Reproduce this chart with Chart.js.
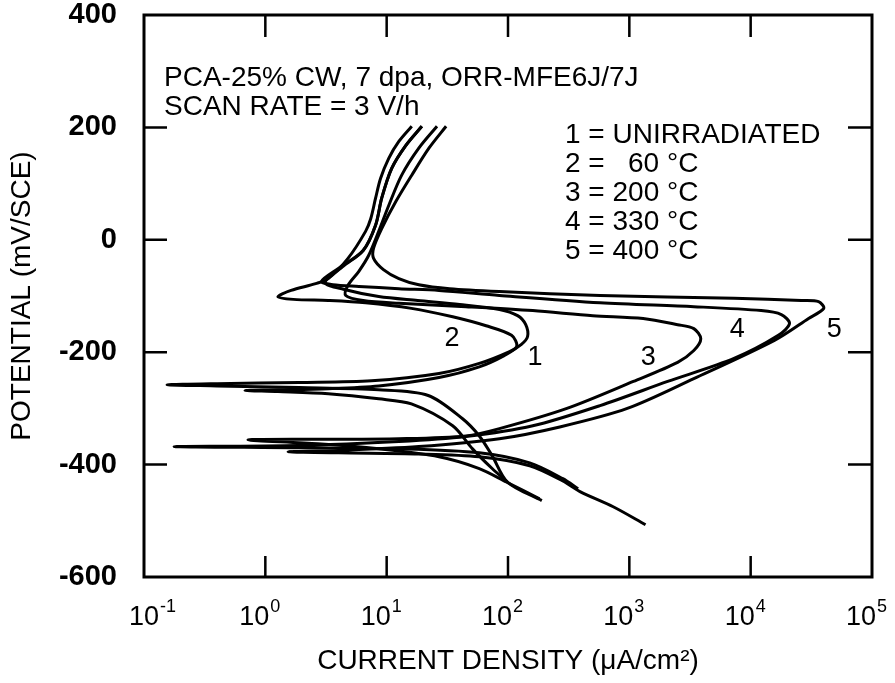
<!DOCTYPE html>
<html>
<head>
<meta charset="utf-8">
<script src="https://cdn.jsdelivr.net/npm/chart.js@4.4.1/dist/chart.umd.min.js"></script>
<style>
  body { margin: 0; background: #fff; }
  #wrap { width: 895px; height: 683px; }
</style>
</head>
<body>
<div id="wrap"><canvas id="chart" width="895" height="683"></canvas></div>
<script>
// Axis ticks
const xTicks = [0.1, 1, 10, 100, 1000, 10000, 100000];
const yTicks = [-600, -400, -200, 0, 200, 400];

// Polarization curves, [current density uA/cm2, potential mV/SCE], in scan order
const curve1 = [[190,-464],[99,-431],[74,-384],[58,-349],[42,-318],[22,-277],[8.6,-267],[1.9,-263],[0.4,-260],[0.155,-258],[0.4,-256],[1.9,-254],[7.5,-251],[27,-238],[58,-220],[103,-199],[129,-186],[145,-172],[140,-151],[120,-135],[85,-124],[40,-115],[18,-108],[8.6,-101],[4.4,-88],[3.1,-76],[4.4,-47],[6.4,-19],[8.1,26],[9.1,74],[11,127],[14.4,168],[19.5,202]];
const curve2 = [[99,-431],[74,-407],[51,-372],[35,-331],[16,-292],[8.6,-283],[3.3,-274],[1.27,-270],[0.68,-268],[1.27,-267],[3.3,-265],[8.6,-260],[27,-245],[58,-226],[93,-206],[118,-190],[107,-170],[66,-153],[35,-137],[16,-122],[6.7,-112],[3.3,-108],[1.7,-106],[1.27,-101],[1.63,-90],[2.6,-78],[3.3,-69],[4.8,-33],[6.7,15],[7.4,38],[8.1,74],[8.9,109],[10.4,145],[12.6,175],[16.1,202]];
const curve3 = [[182,-461],[97,-431],[58,-407],[27,-386],[8.6,-372],[2.7,-363],[0.72,-356],[2.7,-355],[12.6,-354],[45,-349],[85,-336],[306,-300],[1080,-252],[2500,-218],[3400,-197],[3880,-176],[3400,-158],[2500,-151],[1300,-140],[500,-135],[160,-126],[45,-119],[12.6,-113],[6.4,-108],[4.6,-99],[4.8,-81],[5.9,-56],[7.1,-28],[8.6,15],[10.4,61],[13.3,115],[18.4,163],[26,202]];
const curve4 = [[378,-443],[283,-425],[151,-397],[58,-379],[12.6,-372],[1.86,-370],[0.177,-368],[1.86,-366],[12.6,-359],[45,-350],[160,-331],[574,-295],[2070,-252],[7290,-211],[16900,-170],[20900,-149],[17900,-133],[12200,-126],[3400,-119],[574,-112],[85,-99],[27,-90],[12.6,-87],[5.9,-83],[3.6,-80],[2.9,-74],[4.0,-51],[6.4,-19],[8.1,26],[9.1,74],[11,127],[14.4,168],[19.5,202]];
const curve5 = [[1360,-507],[736,-475],[392,-448],[283,-429],[151,-402],[58,-386],[18.4,-381],[4.0,-379],[1.54,-377],[4.0,-375],[18.4,-368],[85,-354],[267,-333],[962,-300],[3400,-247],[15700,-179],[30000,-140],[40000,-122],[36300,-110],[26200,-108],[7290,-104],[574,-99],[85,-92],[33,-87],[18.4,-80],[12.6,-69],[9.4,-53],[7.8,-33],[7.8,-15],[9.1,20],[11.9,68],[16.1,115],[22.3,163],[30.9,202]];

// Text
const curveNames = ['1', '2', '3', '4', '5'];
const curveNameAt = [[167,-209],[34.6,-175],[1430,-209],[7740,-160],[48800,-160]];
const headerLines = ['PCA-25% CW, 7 dpa, ORR-MFE6J/7J', 'SCAN RATE = 3 V/h'];
const legendLines = ['1 = UNIRRADIATED', '2 =   60 °C', '3 = 200 °C', '4 = 330 °C', '5 = 400 °C'];

const FONT = '"Liberation Sans", Arial, Helvetica, sans-serif';

function toPoints(arr) {
    return arr.map(p => ({ x: p[0], y: p[1] }));
}

const curves = [curve1, curve2, curve3, curve4, curve5];

// frame, inward ticks, decade labels and the text blocks
const decor = {
    id: 'decor',
    afterDraw(chart) {
        const ctx = chart.ctx;
        const a = chart.chartArea;
        const xs = chart.scales.x;
        const ys = chart.scales.y;

        ctx.save();
        ctx.strokeStyle = '#000';
        ctx.lineWidth = 3;
        ctx.strokeRect(a.left, a.top, a.right - a.left, a.bottom - a.top);

        ctx.lineWidth = 2.5;
        ctx.beginPath();
        xTicks.forEach(v => {
            const px = xs.getPixelForValue(v);
            if (px <= a.left + 1 || px >= a.right - 1) return;
            ctx.moveTo(px, a.bottom);
            ctx.lineTo(px, a.bottom - 21);
            ctx.moveTo(px, a.top);
            ctx.lineTo(px, a.top + 22);
        });
        yTicks.forEach(v => {
            const py = ys.getPixelForValue(v);
            if (py <= a.top + 1 || py >= a.bottom - 1) return;
            ctx.moveTo(a.left, py);
            ctx.lineTo(a.left + 23, py);
            ctx.moveTo(a.right, py);
            ctx.lineTo(a.right - 24, py);
        });
        ctx.stroke();

        // 10^n labels under the x axis
        ctx.fillStyle = '#000';
        ctx.textBaseline = 'alphabetic';
        ctx.textAlign = 'left';
        xTicks.forEach((v, i) => {
            const px = xs.getPixelForValue(v);
            const base = '10';
            const exp = String(Math.round(Math.log10(v)));
            ctx.font = '27px ' + FONT;
            const wb = ctx.measureText(base).width;
            ctx.font = '18px ' + FONT;
            const we = ctx.measureText(exp).width;
            const shift = i === 0 ? 8 : -6;
            const x0 = px - (wb + we) / 2 + shift;
            ctx.font = '27px ' + FONT;
            ctx.fillText(base, x0, a.bottom + 48);
            ctx.font = '18px ' + FONT;
            ctx.fillText(exp, x0 + wb + 1, a.bottom + 35);
        });

        ctx.font = '28px ' + FONT;
        headerLines.forEach((t, i) => ctx.fillText(t, 164, 86 + i * 29));
        legendLines.forEach((t, i) => ctx.fillText(t, 565, 143 + i * 29));

        ctx.font = '27px ' + FONT;
        ctx.textAlign = 'center';
        ctx.textBaseline = 'middle';
        curveNames.forEach((t, i) => {
            const p = curveNameAt[i];
            ctx.fillText(t, xs.getPixelForValue(p[0]), ys.getPixelForValue(p[1]));
        });
        ctx.restore();
    }
};

new Chart(document.getElementById('chart'), {
    type: 'scatter',
    data: {
        datasets: curves.map((c, i) => ({
            label: curveNames[i],
            data: toPoints(c),
            showLine: true,
            borderColor: '#000',
            borderWidth: 3,
            pointRadius: 0,
            tension: 0.3,
            fill: false
        }))
    },
    options: {
        responsive: false,
        animation: false,
        layout: { padding: { top: 15, right: 23, left: 0, bottom: 0 } },
        plugins: {
            legend: { display: false },
            tooltip: { enabled: false }
        },
        scales: {
            x: {
                type: 'logarithmic',
                min: 0.1,
                max: 100000,
                grid: { display: false, drawTicks: false },
                border: { display: false },
                ticks: { display: false },
                afterBuildTicks: s => { s.ticks = xTicks.map(v => ({ value: v })); },
                afterFit: s => { s.height = 106; s.paddingLeft = 0; s.paddingRight = 0; },
                title: {
                    display: true,
                    text: 'CURRENT DENSITY (μA/cm²)',
                    color: '#000',
                    font: { family: FONT, size: 28 },
                    padding: { top: 0, bottom: 5 }
                }
            },
            y: {
                min: -600,
                max: 400,
                grid: { display: false, drawTicks: false },
                border: { display: false },
                afterBuildTicks: s => { s.ticks = yTicks.map(v => ({ value: v })); },
                afterFit: s => { s.width = 144; s.paddingTop = 0; s.paddingBottom = 0; },
                ticks: {
                    color: '#000',
                    padding: 27,
                    font: { family: FONT, size: 29, weight: 'bold' }
                },
                title: {
                    display: true,
                    text: 'POTENTIAL (mV/SCE)',
                    color: '#000',
                    font: { family: FONT, size: 28 },
                    padding: { top: 5, bottom: 0 }
                }
            }
        }
    },
    plugins: [decor]
});
</script>
</body>
</html>
